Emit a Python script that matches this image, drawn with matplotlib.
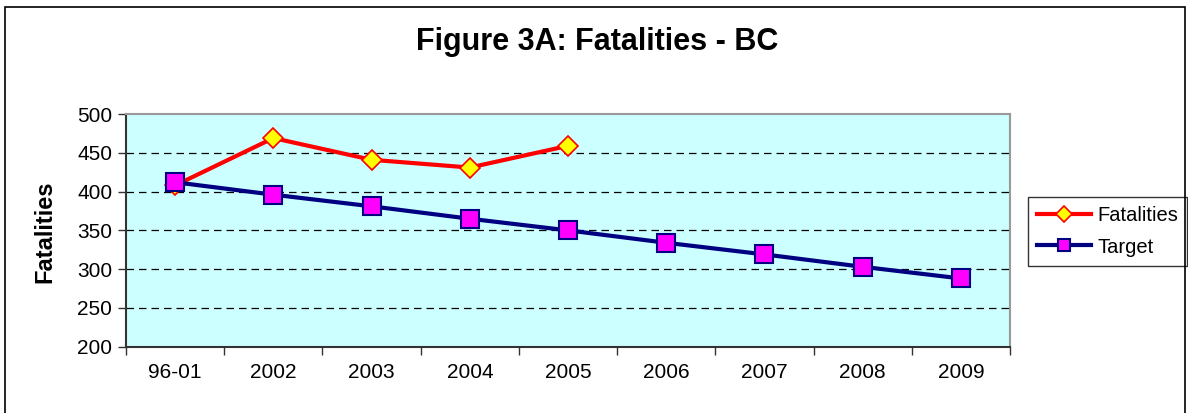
import matplotlib
matplotlib.use("Agg")
import matplotlib.pyplot as plt
from matplotlib.patches import Rectangle

plt.rcParams['font.family'] = ['Liberation Sans', 'DejaVu Sans']

categories = ['96-01', '2002', '2003', '2004', '2005', '2006', '2007', '2008', '2009']
fatalities = [408, 469, 441, 431, 459]
target = [412, 396, 381, 365, 350, 334, 319, 303, 288]

fig = plt.figure(figsize=(11.88, 4.13), dpi=100)
ax = fig.add_axes([0.1061, 0.1605, 0.7441, 0.5634])
ax.set_facecolor('#CCFFFF')

x_fat = list(range(len(fatalities)))
x_tgt = list(range(len(target)))

ax.plot(x_fat, fatalities, color='#FF0000', lw=3, marker='D', ms=10.5,
        mfc='#FFFF00', mec='#FF0000', mew=1.2, label='Fatalities', zorder=3)
ax.plot(x_tgt, target, color='#000080', lw=3, marker='s', ms=13,
        mfc='#FF00FF', mec='#000080', mew=1.5, label='Target', zorder=4)

ax.set_xlim(-0.5, len(categories) - 0.5)
ax.set_ylim(200, 500)
ax.set_yticks(range(200, 501, 50))
ax.set_xticks(x_tgt)
ax.set_xticklabels(categories)
ax.set_xticks([i - 0.5 for i in range(len(categories) + 1)], minor=True)
ax.tick_params(axis='x', which='major', length=0, pad=12, labelsize=15)
ax.tick_params(axis='x', which='minor', length=6, width=1, direction='out', color='#333333')
ax.tick_params(axis='y', length=6, width=1, direction='out', labelsize=15, pad=4, color='#333333')

for y in range(250, 500, 50):
    ax.axhline(y, color='black', lw=0.9, ls=(0, (6, 4)), zorder=1)

for side in ['top', 'right']:
    ax.spines[side].set_color('#999999')
    ax.spines[side].set_linewidth(1.5)
for side in ['left', 'bottom']:
    ax.spines[side].set_color('#333333')
    ax.spines[side].set_linewidth(1.5)

fig.text(0.503, 0.898, 'Figure 3A: Fatalities - BC', ha='center', va='center',
         fontsize=22, fontweight='bold')
fig.text(0.038, 0.44, 'Fatalities', ha='center', va='center', rotation=90,
         fontsize=17, fontweight='bold')

leg = ax.legend(loc='center left', bbox_to_anchor=(0.8653, 0.4395),
                bbox_transform=fig.transFigure, frameon=True, fancybox=False,
                fontsize=14.5, handlelength=2.7, handletextpad=0.3,
                borderpad=0.45, labelspacing=0.6, borderaxespad=0)
leg.get_frame().set_edgecolor('black')
leg.get_frame().set_linewidth(1)
for h in leg.legend_handles:
    h.set_markersize(8)

fig.patches.append(Rectangle((5 / 1188, -0.05), 1180 / 1188, 1 - 7 / 413 + 0.05,
                             transform=fig.transFigure, fill=False,
                             edgecolor='black', lw=1.2))

fig.savefig('out.png', dpi=100)
